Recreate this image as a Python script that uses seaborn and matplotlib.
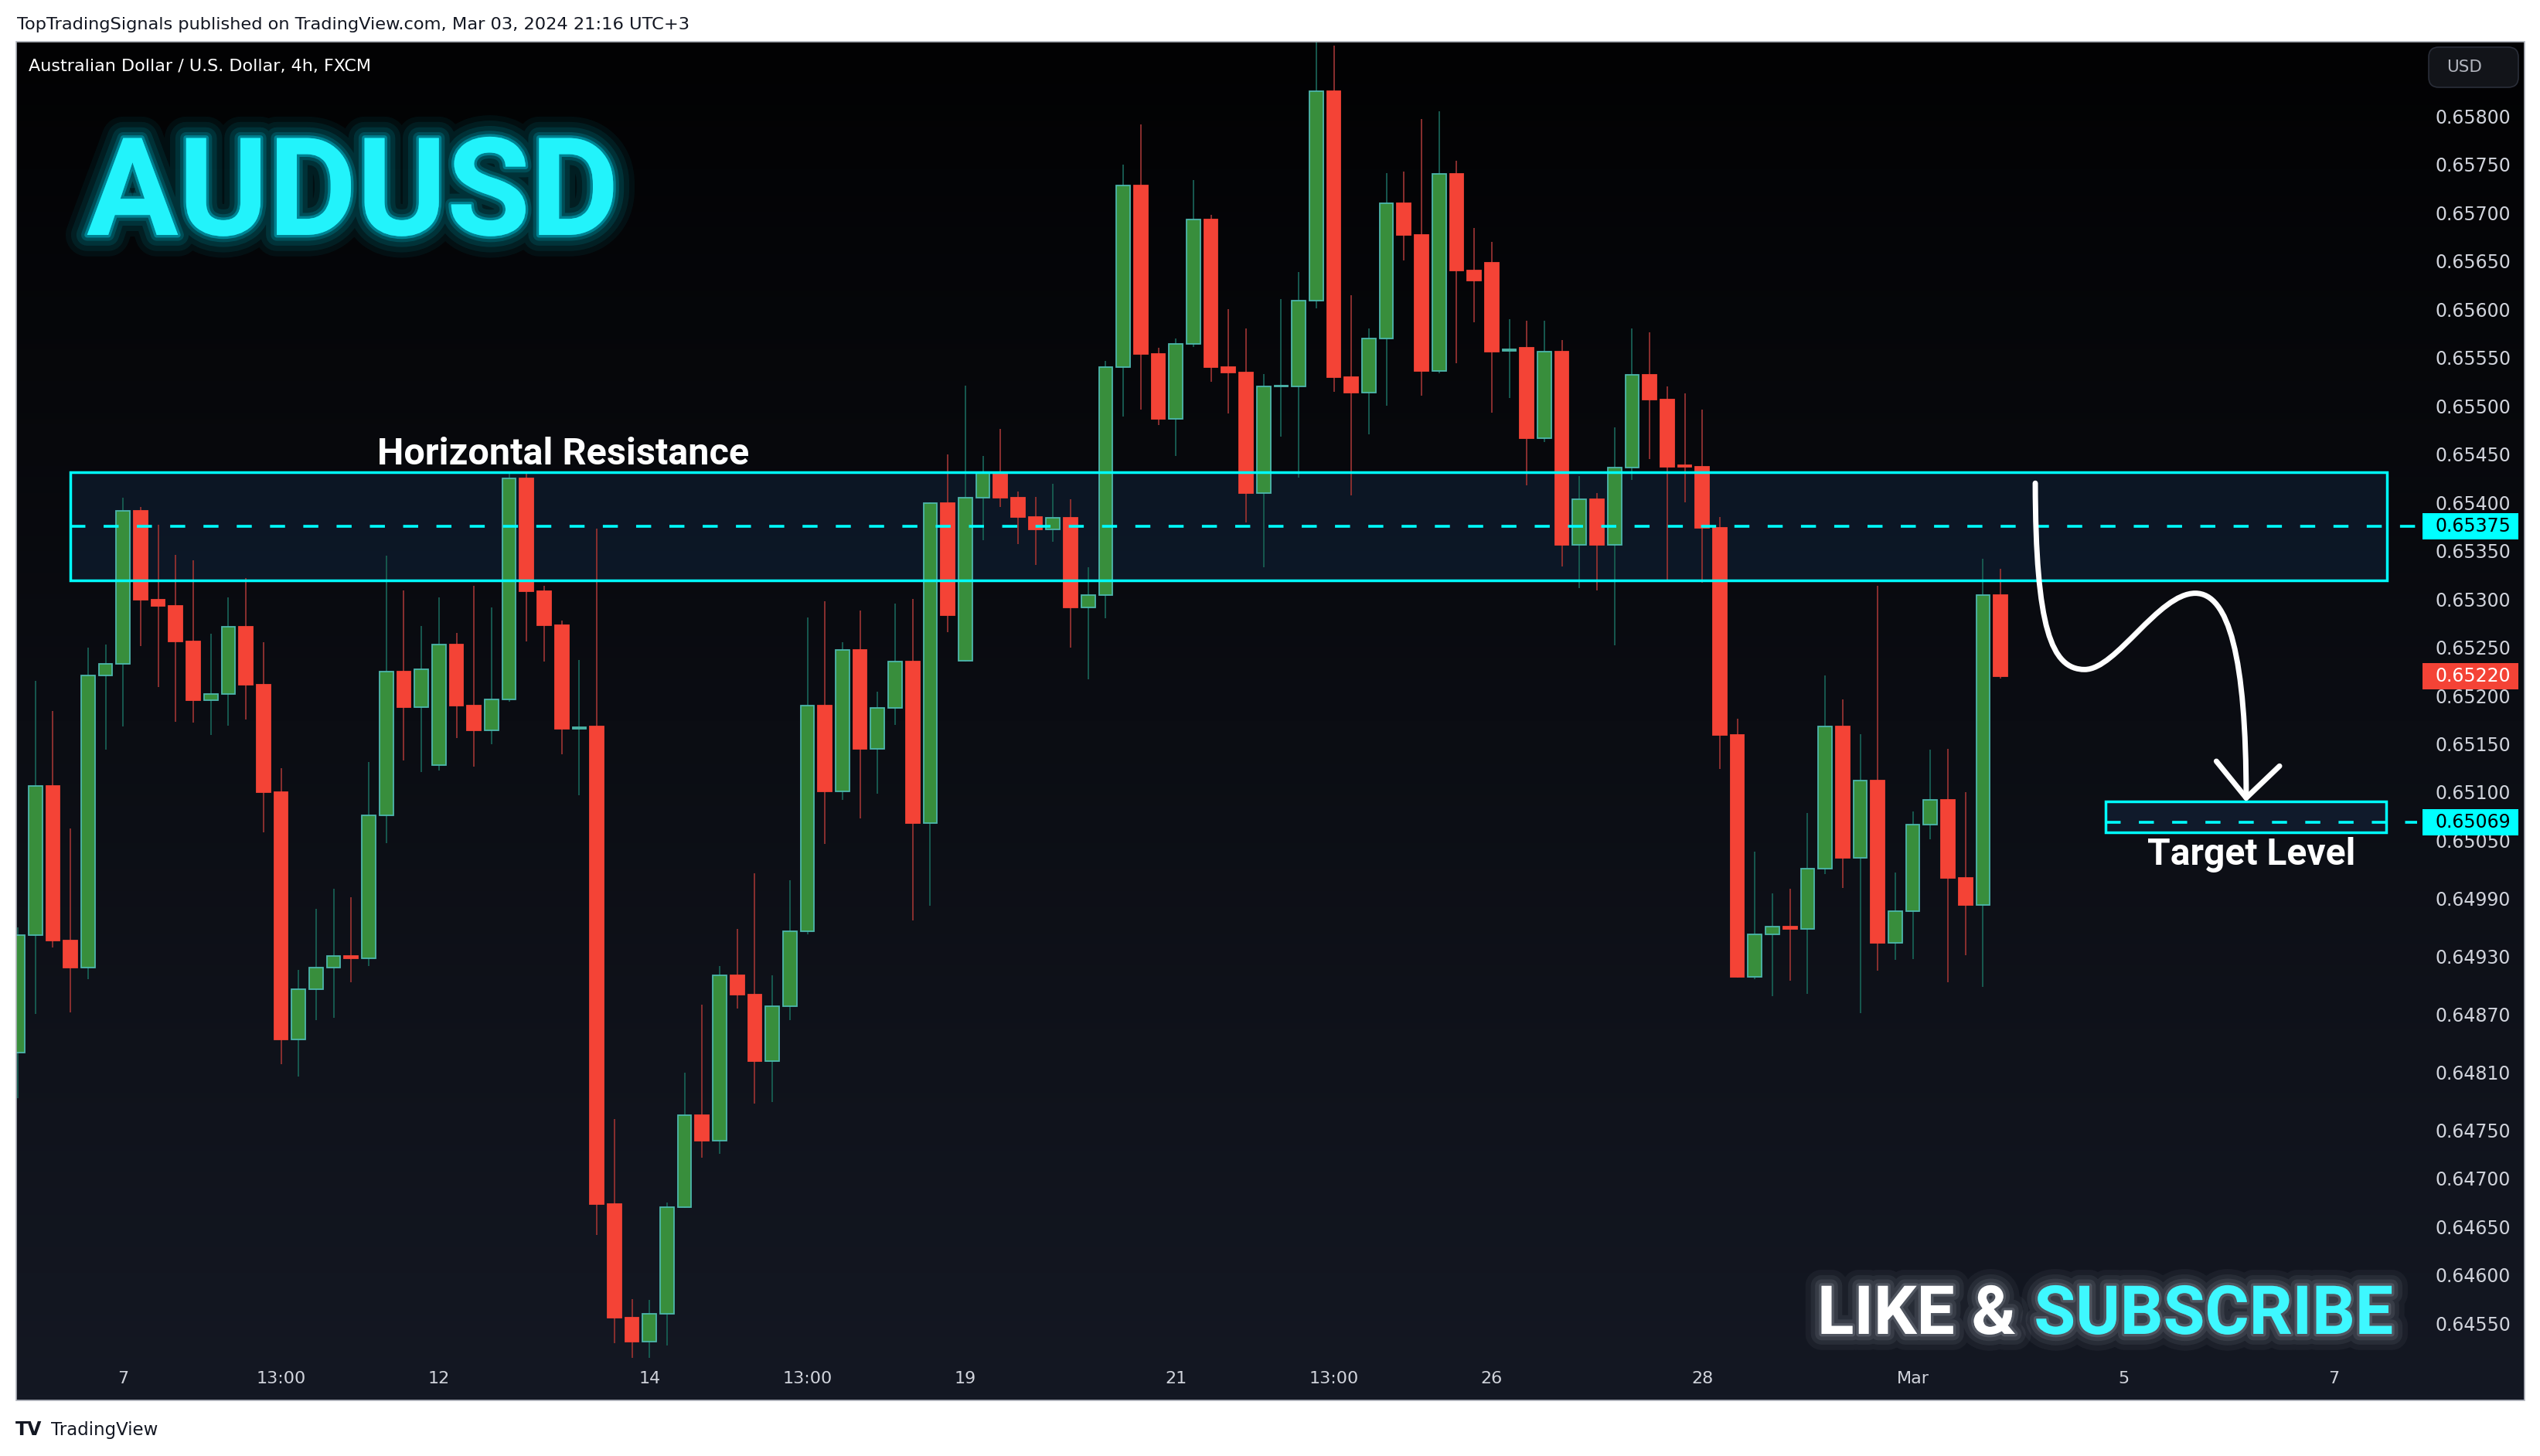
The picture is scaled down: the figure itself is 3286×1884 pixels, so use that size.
import numpy as np
import pandas as pd
import matplotlib
matplotlib.use("Agg")
import matplotlib.pyplot as plt
import seaborn as sns
from matplotlib.patches import Rectangle, FancyBboxPatch, PathPatch
from matplotlib.path import Path
from matplotlib.colors import LinearSegmentedColormap
import matplotlib.patheffects as pe
import matplotlib.transforms as mtransforms
from matplotlib import font_manager as fm

# ---------------- data ----------------
trading_days = ["2024-02-06", "2024-02-07", "2024-02-08", "2024-02-09", "2024-02-12",
                "2024-02-13", "2024-02-14", "2024-02-15", "2024-02-16", "2024-02-19",
                "2024-02-20", "2024-02-21", "2024-02-22", "2024-02-23", "2024-02-26",
                "2024-02-27", "2024-02-28", "2024-02-29", "2024-03-01"]
future_days = ["2024-03-04", "2024-03-05", "2024-03-06", "2024-03-07", "2024-03-08"]
bar_hours = ["01:00", "05:00", "09:00", "13:00", "17:00", "21:00"]

open_ = [0.64830, 0.64952, 0.65106, 0.64946, 0.64918, 0.65221, 0.65233, 0.65391, 0.65299, 0.65293,
         0.65256, 0.65195, 0.65202, 0.65271, 0.65211, 0.65100, 0.64844, 0.64896, 0.64918, 0.64930,
         0.64928, 0.65076, 0.65225, 0.65188, 0.65128, 0.65253, 0.65190, 0.65164, 0.65196, 0.65425,
         0.65308, 0.65273, 0.65166, 0.65168, 0.64673, 0.64556, 0.64531, 0.64560, 0.64670, 0.64765,
         0.64739, 0.64910, 0.64890, 0.64821, 0.64878, 0.64956, 0.65190, 0.65101, 0.65247, 0.65145,
         0.65187, 0.65235, 0.65068, 0.65399, 0.65236, 0.65405, 0.65431, 0.65405, 0.65385, 0.65372,
         0.65384, 0.65291, 0.65304, 0.65540, 0.65728, 0.65554, 0.65487, 0.65564, 0.65693, 0.65540,
         0.65535, 0.65410, 0.65520, 0.65520, 0.65609, 0.65826, 0.65530, 0.65514, 0.65570, 0.65710,
         0.65677, 0.65536, 0.65740, 0.65640, 0.65648, 0.65557, 0.65560, 0.65467, 0.65556, 0.65356,
         0.65403, 0.65356, 0.65436, 0.65532, 0.65507, 0.65438, 0.65437, 0.65374, 0.65159, 0.64909,
         0.64953, 0.64961, 0.64958, 0.65021, 0.65168, 0.65032, 0.65112, 0.64944, 0.64977, 0.65066,
         0.65092, 0.65011, 0.64983, 0.65304]
high = [0.64960, 0.65215, 0.65184, 0.65062, 0.65250, 0.65253, 0.65405, 0.65395, 0.65377, 0.65346,
        0.65340, 0.65264, 0.65302, 0.65322, 0.65255, 0.65125, 0.64916, 0.64979, 0.65000, 0.64991,
        0.65131, 0.65345, 0.65309, 0.65272, 0.65302, 0.65265, 0.65314, 0.65291, 0.65431, 0.65431,
        0.65314, 0.65278, 0.65237, 0.65373, 0.64761, 0.64575, 0.64574, 0.64675, 0.64809, 0.64880,
        0.64920, 0.64958, 0.65016, 0.64910, 0.65009, 0.65281, 0.65298, 0.65255, 0.65288, 0.65204,
        0.65295, 0.65300, 0.65400, 0.65450, 0.65521, 0.65448, 0.65476, 0.65411, 0.65406, 0.65419,
        0.65403, 0.65333, 0.65547, 0.65750, 0.65792, 0.65560, 0.65570, 0.65734, 0.65698, 0.65600,
        0.65580, 0.65533, 0.65611, 0.65639, 0.65878, 0.65873, 0.65615, 0.65580, 0.65741, 0.65743,
        0.65797, 0.65805, 0.65754, 0.65684, 0.65670, 0.65590, 0.65588, 0.65588, 0.65568, 0.65427,
        0.65410, 0.65478, 0.65580, 0.65576, 0.65520, 0.65513, 0.65496, 0.65385, 0.65176, 0.65038,
        0.64995, 0.65000, 0.65078, 0.65221, 0.65196, 0.65160, 0.65314, 0.65017, 0.65080, 0.65144,
        0.65145, 0.65100, 0.65342, 0.65331]
low = [0.64783, 0.64870, 0.64939, 0.64872, 0.64906, 0.65144, 0.65168, 0.65251, 0.65209, 0.65173,
       0.65172, 0.65159, 0.65169, 0.65175, 0.65058, 0.64818, 0.64805, 0.64864, 0.64866, 0.64903,
       0.64920, 0.65047, 0.65133, 0.65121, 0.65122, 0.65156, 0.65126, 0.65150, 0.65194, 0.65256,
       0.65235, 0.65139, 0.65097, 0.64641, 0.64529, 0.64514, 0.64514, 0.64527, 0.64669, 0.64721,
       0.64725, 0.64876, 0.64777, 0.64779, 0.64864, 0.64953, 0.65046, 0.65092, 0.65073, 0.65098,
       0.65170, 0.64967, 0.64982, 0.65266, 0.65235, 0.65361, 0.65395, 0.65357, 0.65335, 0.65359,
       0.65250, 0.65217, 0.65280, 0.65489, 0.65496, 0.65480, 0.65448, 0.65561, 0.65525, 0.65492,
       0.65379, 0.65333, 0.65468, 0.65426, 0.65601, 0.65515, 0.65407, 0.65471, 0.65500, 0.65651,
       0.65511, 0.65534, 0.65544, 0.65587, 0.65493, 0.65508, 0.65418, 0.65463, 0.65334, 0.65311,
       0.65309, 0.65252, 0.65423, 0.65445, 0.65318, 0.65400, 0.65317, 0.65124, 0.64908, 0.64906,
       0.64889, 0.64905, 0.64891, 0.65015, 0.65001, 0.64871, 0.64915, 0.64926, 0.64927, 0.65051,
       0.64903, 0.64931, 0.64898, 0.65218]
close = [0.64952, 0.65106, 0.64946, 0.64918, 0.65221, 0.65233, 0.65391, 0.65299, 0.65293, 0.65256,
         0.65195, 0.65202, 0.65271, 0.65211, 0.65100, 0.64844, 0.64896, 0.64918, 0.64930, 0.64928,
         0.65076, 0.65225, 0.65188, 0.65227, 0.65253, 0.65190, 0.65164, 0.65196, 0.65425, 0.65308,
         0.65273, 0.65166, 0.65167, 0.64673, 0.64556, 0.64531, 0.64560, 0.64670, 0.64765, 0.64739,
         0.64910, 0.64890, 0.64821, 0.64878, 0.64956, 0.65190, 0.65101, 0.65247, 0.65145, 0.65187,
         0.65235, 0.65068, 0.65399, 0.65283, 0.65405, 0.65431, 0.65405, 0.65385, 0.65372, 0.65384,
         0.65291, 0.65304, 0.65540, 0.65728, 0.65554, 0.65487, 0.65564, 0.65693, 0.65540, 0.65535,
         0.65410, 0.65520, 0.65521, 0.65609, 0.65826, 0.65530, 0.65514, 0.65570, 0.65710, 0.65677,
         0.65536, 0.65740, 0.65640, 0.65630, 0.65556, 0.65559, 0.65467, 0.65556, 0.65356, 0.65403,
         0.65356, 0.65436, 0.65532, 0.65507, 0.65437, 0.65437, 0.65374, 0.65159, 0.64909, 0.64953,
         0.64961, 0.64958, 0.65021, 0.65168, 0.65032, 0.65112, 0.64944, 0.64977, 0.65066, 0.65092,
         0.65011, 0.64983, 0.65304, 0.65220]

price_ticks = [0.65800, 0.65750, 0.65700, 0.65650, 0.65600, 0.65550, 0.65500, 0.65450, 0.65400,
               0.65350, 0.65300, 0.65250, 0.65200, 0.65150, 0.65100, 0.65050, 0.64990, 0.64930,
               0.64870, 0.64810, 0.64750, 0.64700, 0.64650, 0.64600, 0.64550]
time_tick_times = ["2024-02-07 01:00", "2024-02-08 13:00", "2024-02-12 01:00", "2024-02-14 01:00",
                   "2024-02-15 13:00", "2024-02-19 01:00", "2024-02-21 01:00", "2024-02-22 13:00",
                   "2024-02-26 01:00", "2024-02-28 01:00", "2024-03-01 01:00", "2024-03-05 01:00",
                   "2024-03-07 01:00"]
time_tick_labels = ["7", "13:00", "12", "14", "13:00", "19", "21", "13:00", "26", "28", "Mar", "5", "7"]

resistance_zone = (0.65319, 0.65431)
resistance_level = 0.65375
resistance_span = ("2024-02-06 13:00", "2024-03-07 13:00")
target_zone = (0.65058, 0.65090)
target_level = 0.65069
target_span = ("2024-03-04 21:00", "2024-03-07 13:00")
last_price = 0.65220

# ---------------- style ----------------
sns.set_theme(style="dark")
names = {f.name for f in fm.fontManager.ttflist}


def pick(*cands):
    for c in cands:
        if c in names:
            return c
    return "DejaVu Sans"


bold_font = pick("Roboto", "Inter", "DejaVu Sans")
plt.rcParams["font.family"] = ["DejaVu Sans"]
plt.rcParams["lines.scale_dashes"] = False

W, H = 3286, 1884
fx = lambda px: px / W
fy = lambda py: 1 - py / H

fig = plt.figure(figsize=(W / 100, H / 100), dpi=100, facecolor="white")

# gradient background of the chart frame
bg = fig.add_axes([fx(21), fy(1812), (3266 - 21) / W, (1812 - 54) / H], zorder=0)
cmap = LinearSegmentedColormap.from_list("tvbg", ["#020203", "#141823"])
bg.imshow(np.linspace(0, 1, 512)[:, None], aspect="auto", cmap=cmap)
bg.axis("off")

# price pane
pane_top, pane_bottom, pane_left, pane_right = 54, 1762, 21, 3127
ax = fig.add_axes([fx(pane_left), fy(pane_bottom), (pane_right - pane_left) / W,
                   (pane_bottom - pane_top) / H], zorder=2)
ax.set_facecolor("none")
for s in ax.spines.values():
    s.set_visible(False)
ax.grid(False)

timeline = pd.to_datetime([f"{d} {h}" for d in trading_days + future_days for h in bar_hours])
pos = lambda t: timeline.get_loc(pd.Timestamp(t))

df = pd.DataFrame({"t": timeline[:len(open_)], "open": open_, "high": high, "low": low, "close": close})
df["x"] = np.arange(len(df))
df["up"] = df["close"] >= df["open"]

bar_px = 22.7
ax.set_xlim((pane_left - 23) / bar_px, (pane_right - 23) / bar_px)
ax.set_ylim(0.659205 - pane_bottom / 124920, 0.659205 - pane_top / 124920)

# zones (behind candles)
r0, r1 = pos(resistance_span[0]), pos(resistance_span[1])
t0, t1 = pos(target_span[0]), pos(target_span[1])
ax.add_patch(Rectangle((r0, resistance_zone[0]), r1 - r0, resistance_zone[1] - resistance_zone[0],
                       facecolor="#398af1", alpha=0.10, edgecolor="none", zorder=1))
ax.add_patch(Rectangle((t0, target_zone[0]), t1 - t0, target_zone[1] - target_zone[0],
                       facecolor="#398af1", alpha=0.10, edgecolor="none", zorder=1))

# candles
wick_col = np.where(df["up"], "#17594f", "#8a2f2f")
body_col = np.where(df["up"], "#388e3c", "#f44336")
edge_col = np.where(df["up"], "#4db6ac", "#f44336")
ax.vlines(df["x"], df["low"], df["high"], colors=wick_col, linewidth=1.4, zorder=3)
body_h = np.maximum((df["close"] - df["open"]).abs(), 1.2e-5)
ax.bar(df["x"], body_h, bottom=np.minimum(df["open"], df["close"]), width=0.78,
       color=body_col, edgecolor=edge_col, linewidth=1.3, zorder=4)

# zone outlines and dashed levels (on top)
cyan = "#00ffff"
ax.add_patch(Rectangle((r0, resistance_zone[0]), r1 - r0, resistance_zone[1] - resistance_zone[0],
                       fill=False, edgecolor=cyan, linewidth=2.5, zorder=6))
ax.add_patch(Rectangle((t0, target_zone[0]), t1 - t0, target_zone[1] - target_zone[0],
                       fill=False, edgecolor=cyan, linewidth=2.5, zorder=6))
xr = ax.get_xlim()[1]
ax.plot([r0, xr], [resistance_level] * 2, color=cyan, linewidth=2.6, dashes=(14, 17), zorder=6)
ax.plot([t0, xr], [target_level] * 2, color=cyan, linewidth=2.6, dashes=(14, 17), zorder=6)

# hand-drawn arrow
verts = [(114.98, 0.65420), (115.0, 0.65270), (115.9, 0.65227), (117.8, 0.65227),
         (119.6, 0.65227), (122.0, 0.65306), (124.1, 0.65306),
         (126.0, 0.65306), (127.0, 0.65240), (127.0, 0.65094)]
codes = [Path.MOVETO] + [Path.CURVE4] * 9
ax.add_patch(PathPatch(Path(verts, codes), fill=False, edgecolor="white", linewidth=5,
                       capstyle="round", joinstyle="round", zorder=7))
ax.plot([125.3, 127.0, 128.9], [0.65132, 0.65094, 0.65127], color="white", linewidth=5,
        solid_capstyle="round", solid_joinstyle="round", zorder=7)

# annotations
ax.text(31.1, 0.654394, "Horizontal Resistance", color="white", fontsize=35, fontweight="bold",
        family=bold_font, ha="center", va="baseline", zorder=8)
ax.text(127.3, 0.650247, "Target Level", color="white", fontsize=34.5, fontweight="bold",
        family=bold_font, ha="center", va="baseline", zorder=8)

# axes ticks
ax.yaxis.tick_right()
ax.set_yticks(price_ticks)
ax.set_yticklabels([f"{v:.5f}" for v in price_ticks])
ax.tick_params(axis="y", length=0, pad=17, labelsize=17, labelcolor="#d1d4dc")
ax.set_xticks([pos(t) for t in time_tick_times])
ax.set_xticklabels(time_tick_labels)
ax.tick_params(axis="x", length=0, pad=9, labelsize=16, labelcolor="#d1d4dc")

# price labels on the axis
trans = mtransforms.blended_transform_factory(ax.transAxes, ax.transData)
lab_x0 = (3134 - pane_left) / (pane_right - pane_left)
lab_w = (3258 - 3134) / (pane_right - pane_left)
lab_tx = (3151 - pane_left) / (pane_right - pane_left)
lab_h = 34 / 124920
for val, bgc, fgc in [(resistance_level, cyan, "#000000"), (target_level, cyan, "#000000"),
                      (last_price, "#f44336", "#ffffff")]:
    ax.add_patch(Rectangle((lab_x0, val - lab_h / 2), lab_w, lab_h, transform=trans, clip_on=False,
                           facecolor=bgc, edgecolor="none", zorder=9))
    ax.text(lab_tx, val, f"{val:.5f}", transform=trans, ha="left", va="center", fontsize=17,
            color=fgc, clip_on=False, zorder=10)

# USD button
fig.add_artist(FancyBboxPatch((fx(3142), fy(113)), (3258 - 3142) / W, (113 - 61) / H,
                              boxstyle="round,pad=0,rounding_size=0.004", mutation_aspect=W / H,
                              transform=fig.transFigure, facecolor="#121419", edgecolor="#2a2e39",
                              linewidth=1.2, zorder=5))
fig.text(fx(3188), fy(87), "USD", color="#b2b5be", fontsize=15.5, ha="center", va="center", zorder=6)

# frame border
fig.add_artist(Rectangle((fx(21), fy(1812)), (3266 - 21) / W, (1812 - 54) / H, transform=fig.transFigure,
                         fill=False, edgecolor="#b2b5be", linewidth=1.2, zorder=10))

# header / footer texts
fig.text(fx(22), fy(32), "TopTradingSignals published on TradingView.com, Mar 03, 2024 21:16 UTC+3",
         color="#131722", fontsize=16.2, ha="left", va="center")
fig.text(fx(37), fy(86), "Australian Dollar / U.S. Dollar, 4h, FXCM", color="white", fontsize=16,
         ha="left", va="center", zorder=6)
fig.text(fx(20), fy(1850), "TV", color="#131722", fontsize=17, fontweight="heavy", ha="left", va="center")
fig.text(fx(66), fy(1850), "TradingView", color="#131722", fontsize=16.5, ha="left", va="center")

# glowing titles
glow_c = [pe.Stroke(linewidth=w, foreground="#00e5ff", alpha=a)
          for w, a in [(40, 0.05), (30, 0.07), (20, 0.10), (11, 0.16), (5, 0.35)]] + [pe.Normal()]
fig.text(fx(112), fy(304), "AUDUSD", color="#22f3fb", fontsize=127, fontweight="bold", family=bold_font,
         ha="left", va="baseline", path_effects=glow_c, zorder=8)
glow_w = [pe.Stroke(linewidth=w, foreground="#9aa1ad", alpha=a)
          for w, a in [(30, 0.07), (20, 0.10), (12, 0.14), (5, 0.25)]] + [pe.Normal()]
fig.text(fx(2351), fy(1726), "LIKE &", color="white", fontsize=63, fontweight="bold", family=bold_font,
         ha="left", va="baseline", path_effects=glow_w, zorder=8)
fig.text(fx(3096), fy(1726), "SUBSCRIBE", color="#3ef8ff", fontsize=63, fontweight="bold", family=bold_font,
         ha="right", va="baseline", path_effects=glow_w, zorder=8)

fig.savefig("out.png", dpi=100, facecolor="white")
